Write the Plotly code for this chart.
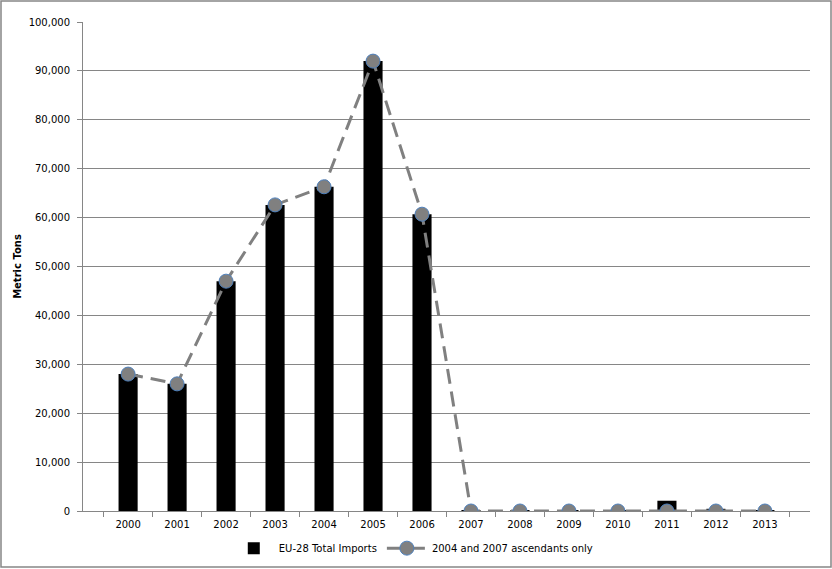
import plotly.graph_objects as go

# years on the x axis
years = ['2000', '2001', '2002', '2003', '2004', '2005', '2006',
         '2007', '2008', '2009', '2010', '2011', '2012', '2013']

# EU-28 total imports, metric tons
eu28_imports = [28000, 26000, 47000, 62600, 66300, 92000, 60700,
                100, 100, 150, 150, 2100, 450, 150]

# 2004 and 2007 ascendants only, metric tons
ascendants = [28000, 26000, 47000, 62600, 66300, 92000, 60700,
              0, 0, 0, 0, 0, 0, 0]

y_ticks = list(range(0, 100001, 10000))

grey = '#868686'

fig = go.Figure()
fig.add_trace(go.Bar(x=years, y=eu28_imports, name='EU-28 Total Imports',
                     marker=dict(color='black', line=dict(width=0))))
fig.add_trace(go.Scatter(x=years, y=ascendants, mode='lines+markers',
                         name='2004 and 2007 ascendants only',
                         line=dict(color='#808080', width=3, dash='15px,8px'),
                         marker=dict(color='#808080', size=14,
                                     line=dict(color='#4f81bd', width=1))))

# outer frame of the chart
fig.add_shape(type='rect', xref='paper', yref='paper',
              x0=-0.1128, x1=1.0289, y0=-0.1145, y1=1.043,
              line=dict(color=grey, width=1.5), fillcolor='rgba(0,0,0,0)')

fig.update_layout(
    width=832, height=569,
    paper_bgcolor='white', plot_bgcolor='white',
    margin=dict(l=83, r=22, t=22, b=58, autoexpand=False),
    font=dict(family='DejaVu Sans', size=10, color='black'),
    bargap=0.61,
    showlegend=True,
    legend=dict(orientation='h', x=0.455, xanchor='center', y=-0.076, yanchor='middle',
                font=dict(size=10), itemwidth=40, traceorder='normal'),
    xaxis=dict(showline=True, linecolor=grey, linewidth=1, ticks='outside',
               tickson='boundaries', ticklen=5, tickcolor=grey, showgrid=False,
               ticklabelstandoff=4),
    yaxis=dict(range=[0, 100000], tickvals=y_ticks, tickformat=',d',
               showline=True, linecolor=grey, linewidth=1, ticks='outside',
               ticklen=5, tickcolor=grey, gridcolor=grey, gridwidth=1,
               zeroline=False, ticklabelstandoff=5,
               title=dict(text='<b>Metric Tons</b>', font=dict(size=10), standoff=5)),
)

# drop the page's default body margin so the figure sits at the window corner
fig.write_html('out.html', config={'displayModeBar': False},
               post_script="document.body.style.margin='0';")
